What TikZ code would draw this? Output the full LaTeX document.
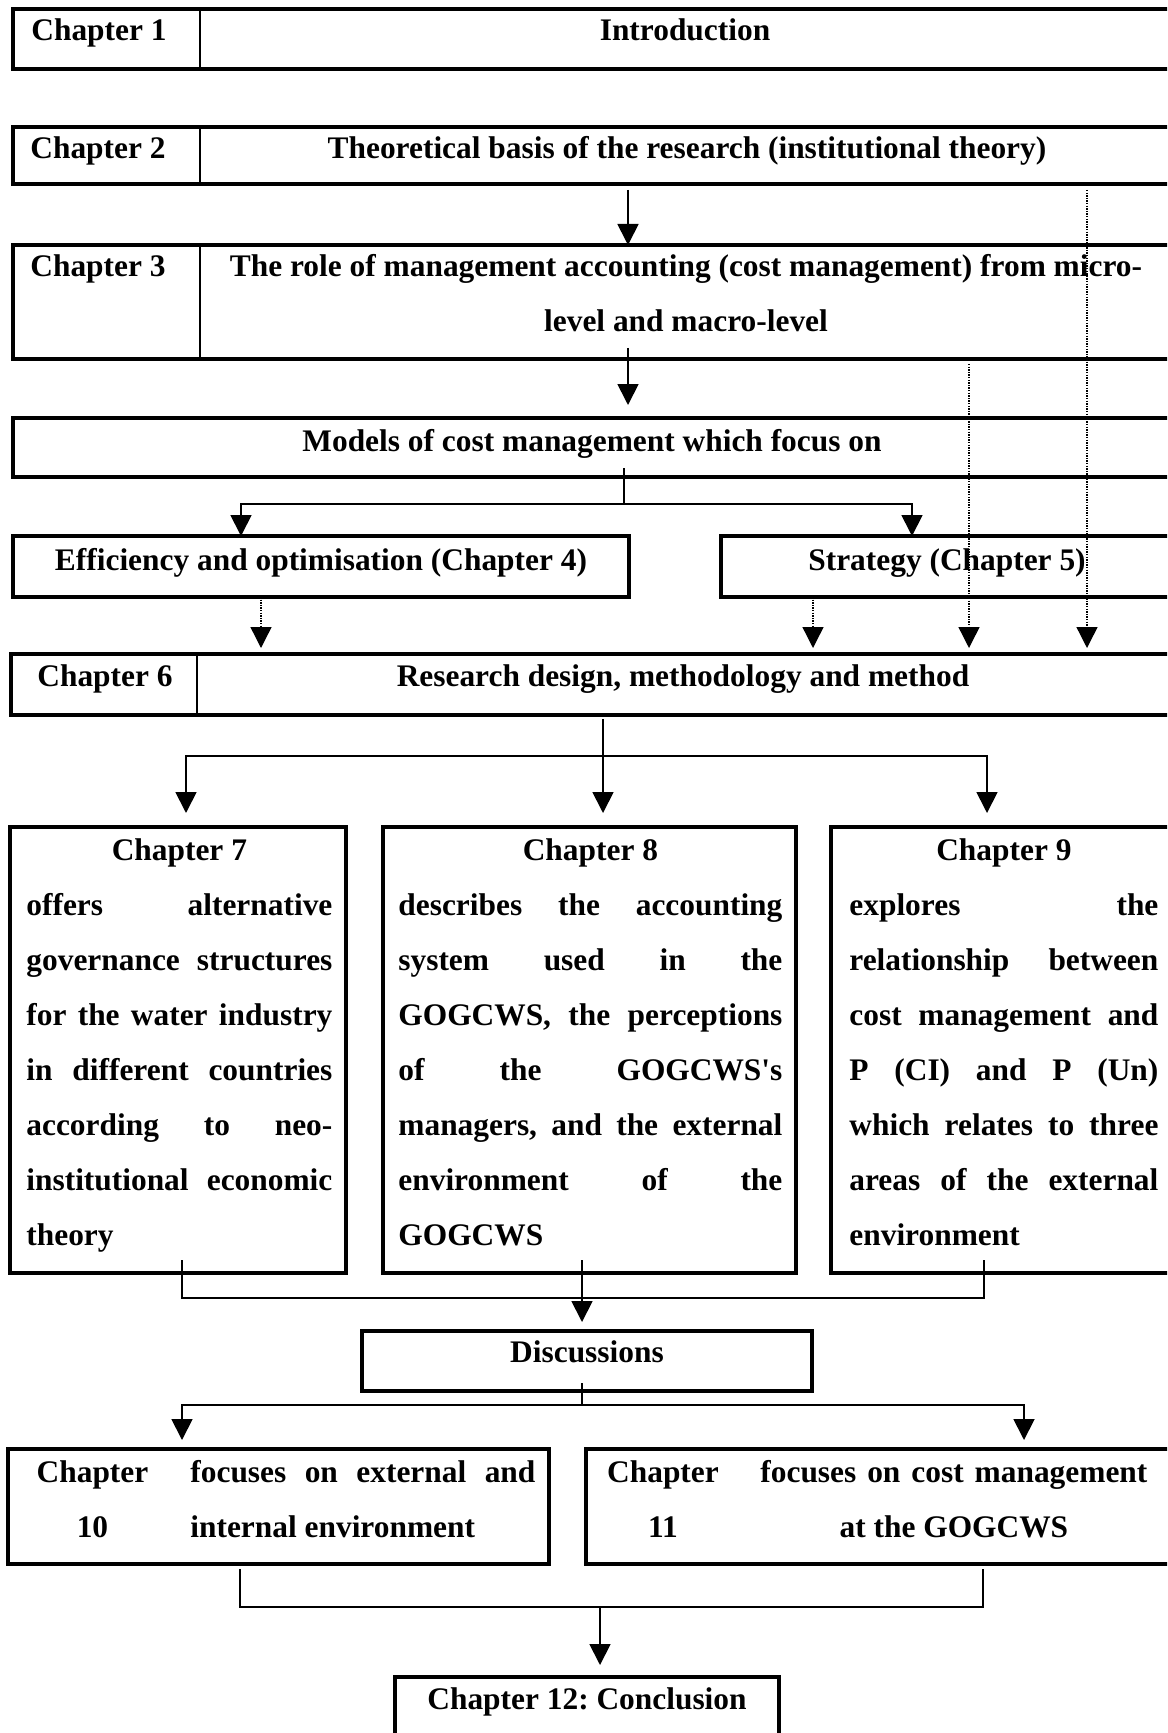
\documentclass[tikz,border=0pt]{standalone}
\usepackage{fontspec}
\newfontfamily\diagfont{Liberation Serif}
\usetikzlibrary{arrows.meta,fit,calc}

% justified line of a given width, and a centred one
\newcommand{\jrow}[2]{\hbox to #1{#2}}
\newcommand{\crow}[2]{\hbox to #1{\hfil #2\hfil}}

\tikzset{
  txt/.style={font=\diagfont\bfseries\fontsize{15.7pt}{27.5pt}\selectfont\frenchspacing,
              inner sep=0pt, anchor=base},
  frame/.style={draw, line width=1.6pt, inner sep=0pt, outer sep=0pt},
  divider/.style={line width=0.6pt},
  link/.style={line width=0.9pt},
  arrowlink/.style={link, -{Triangle[width=10.5pt,length=10.5pt]}},
  dotlink/.style={line width=0.7pt, dash pattern=on 0.7pt off 0.6pt,
                  -{Triangle[width=10.5pt,length=10.5pt]}},
}

\begin{document}
\begin{tikzpicture}[x=0.5pt,y=-0.5pt]
\path[use as bounding box] (0,0) rectangle (1167,1733);
\fill[white] (0,0) rectangle (1167,1733);
\clip (0,0) rectangle (1167,1733);

% column positions of the connectors
\foreach \xx in {182,186,197,200,240,241,261,582,600,603,624,628,813,912,969,983,984,987,1024,1087}
  \coordinate (k\xx) at (\xx,0);

% ---------- boxes ----------
\node[frame, fit={(13,9) (1185,69)}]      (c1) {};
\node[frame, fit={(13,127) (1185,184)}]   (c2) {};
\node[frame, fit={(13,245) (1185,359)}]   (c3) {};
\node[frame, fit={(13,418) (1185,477)}]   (models) {};
\node[frame, fit={(13,536) (629,597)}]    (eff) {};
\node[frame, fit={(721,536) (1185,597)}]  (strat) {};
\node[frame, fit={(11,654) (1185,715)}]   (c6) {};
\node[frame, fit={(10,827) (346,1273)}]   (c7) {};
\node[frame, fit={(383,827) (796,1273)}]  (c8) {};
\node[frame, fit={(831,827) (1185,1273)}] (c9) {};
\node[frame, fit={(362,1331) (812,1391)}] (disc) {};
\node[frame, fit={(8,1449) (549,1564)}]   (c10) {};
\node[frame, fit={(586,1449) (1185,1564)}] (c11) {};
\node[frame, fit={(395,1677) (779,1780)}] (c12) {};

% label columns
\draw[divider] (k200 |- c1.north) -- (k200 |- c1.south);
\draw[divider] (k200 |- c2.north) -- (k200 |- c2.south);
\draw[divider] (k200 |- c3.north) -- (k200 |- c3.south);
\draw[divider] (k197 |- c6.north) -- (k197 |- c6.south);

% ---------- texts ----------
\node[txt] (c1a) at (99,41) {Chapter 1};
\node[txt] (c1b) at (685,41) {Introduction};
\node[txt] (c2a) at (98,159) {Chapter 2};
\node[txt] (c2b) at (687,159) {Theoretical basis of the research (institutional theory)};
\node[txt] (c3a) at (98,277) {Chapter 3};
\node[txt] (c3b) at (686,277) {\vtop{%
  \crow{470pt}{The role of management accounting (cost management) from micro-}%
  \crow{470pt}{level and macro-level}}};
\node[txt] (mt) at (592,451) {Models of cost management which focus on};
\node[txt] (efft) at (321,570) {Efficiency and optimisation (Chapter 4)};
\node[txt] (stratt) at (947,570) {Strategy (Chapter 5)};
\node[txt] (c6a) at (105,686) {Chapter 6};
\node[txt] (c6b) at (683,686) {Research design, methodology and method};

\node[txt, anchor=base west] (c7t) at (26,860) {\vtop{%
  \crow{153pt}{Chapter 7}%
  \jrow{153pt}{offers alternative}%
  \jrow{153pt}{governance structures}%
  \jrow{153pt}{for the water industry}%
  \jrow{153pt}{in different countries}%
  \jrow{153pt}{according to neo-}%
  \jrow{153pt}{institutional economic}%
  \hbox{theory}}};

\node[txt, anchor=base west] (c8t) at (398,860) {\vtop{%
  \crow{192pt}{Chapter 8}%
  \jrow{192pt}{describes the accounting}%
  \jrow{192pt}{system used in the}%
  \jrow{192pt}{GOGCWS, the perceptions}%
  \jrow{192pt}{of the GOGCWS's}%
  \jrow{192pt}{managers, and the external}%
  \jrow{192pt}{environment of the}%
  \hbox{GOGCWS}}};

\node[txt, anchor=base west] (c9t) at (849,860) {\vtop{%
  \crow{154.5pt}{Chapter 9}%
  \jrow{154.5pt}{explores the}%
  \jrow{154.5pt}{relationship between}%
  \jrow{154.5pt}{cost management and}%
  \jrow{154.5pt}{P (CI) and P (Un)}%
  \jrow{154.5pt}{which relates to three}%
  \jrow{154.5pt}{areas of the external}%
  \hbox{environment}}};

\node[txt] (disct) at (587,1362) {Discussions};

\node[txt] (c10a) at (92.5,1482) {\vtop{\crow{60pt}{Chapter}\crow{60pt}{10}}};
\node[txt, anchor=base west] (c10b) at (190,1482) {\vtop{%
  \jrow{172.5pt}{focuses on external and}%
  \hbox{internal environment}}};

\node[txt] (c11a) at (663,1482) {\vtop{\crow{60pt}{Chapter}\crow{60pt}{11}}};
\node[txt, anchor=base west] (c11b) at (760,1482) {\vtop{%
  \jrow{193.5pt}{focuses on cost management}%
  \crow{193.5pt}{at the GOGCWS}}};

\node[txt] (c12t) at (587,1709) {Chapter 12: Conclusion};

% ---------- connectors ----------
\draw[arrowlink] ($(k628 |- c2.south)+(0,6)$) -- (k628 |- c3.north);
\draw[arrowlink] ($(k628 |- c3.south)+(0,-11)$) -- ($(k628 |- models.north)+(0,-13)$);

\coordinate (fork1) at (624,504);
\draw[link] ($(k624 |- models.south)+(0,-9)$) -- (fork1);
\draw[arrowlink] (fork1) -| (k241 |- eff.north);
\draw[arrowlink] (fork1) -| (k912 |- strat.north);

% dotted feeds into chapter 6
\draw[dotlink] (k261 |- eff.south) -- ($(k261 |- c6.north)+(0,-6)$);
\draw[dotlink] (k813 |- strat.south) -- ($(k813 |- c6.north)+(0,-6)$);
\draw[dotlink] ($(k969 |- c3.south)+(0,5)$) -- ($(k969 |- c6.north)+(0,-6)$);
\draw[dotlink] ($(k1087 |- c2.south)+(0,6)$) -- ($(k1087 |- c6.north)+(0,-6)$);

\coordinate (fork2) at (603,756);
\draw[link] ($(k603 |- c6.south)+(0,4)$) -- (fork2);
\draw[arrowlink] (fork2) -| ($(k186 |- c7.north)+(0,-14)$);
\draw[arrowlink] (fork2) -- ($(k603 |- c8.north)+(0,-14)$);
\draw[arrowlink] (fork2) -| ($(k987 |- c9.north)+(0,-14)$);

\draw[link] ($(k182 |- c7.south)+(0,-13)$) |- ($(k984 |- c9.south)+(0,25)$)
            -- ($(k984 |- c9.south)+(0,-13)$);
\draw[arrowlink] ($(k582 |- c8.south)+(0,-13)$) -- ($(k582 |- disc.north)+(0,-9)$);

\coordinate (fork3) at (582,1405);
\draw[link] ($(k582 |- disc.south)+(0,-8)$) -- (fork3);
\draw[arrowlink] (fork3) -| ($(k182 |- c10.north)+(0,-9)$);
\draw[arrowlink] (fork3) -| ($(k1024 |- c11.north)+(0,-9)$);

\draw[link] ($(k240 |- c10.south)+(0,5)$) |- ($(k983 |- c11.south)+(0,43)$)
            -- ($(k983 |- c11.south)+(0,5)$);
\draw[arrowlink] ($(k600 |- c11.south)+(0,43)$) -- ($(k600 |- c12.north)+(0,-12)$);
\end{tikzpicture}
\end{document}
